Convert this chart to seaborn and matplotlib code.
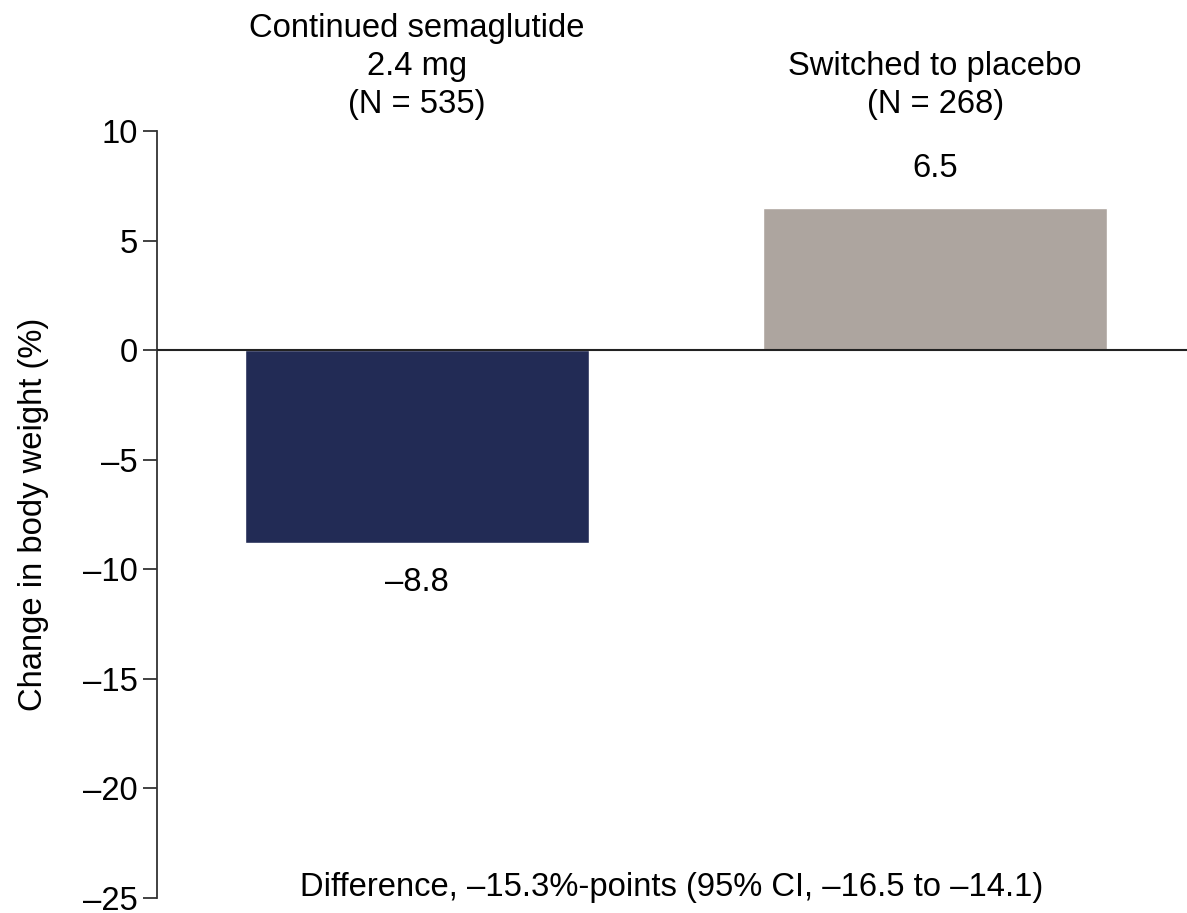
import matplotlib
matplotlib.use("Agg")
import matplotlib.pyplot as plt
import seaborn as sns
import pandas as pd

# Data
groups = ["Continued semaglutide\n2.4 mg\n(N = 535)", "Switched to placebo\n(N = 268)"]
change = [-8.8, 6.5]
bar_colors = ["#222B55", "#ADA59F"]
yticks = [10, 5, 0, -5, -10, -15, -20, -25]
difference_text = "Difference, \u201315.3%-points (95% CI, \u201316.5 to \u201314.1)"

sns.set_theme(style="white")
plt.rcParams["font.family"] = ["Liberation Sans", "DejaVu Sans"]
plt.rcParams["text.color"] = "black"
plt.rcParams["axes.labelcolor"] = "black"
plt.rcParams["ytick.color"] = "black"

FS = 23.6

df = pd.DataFrame({"group": groups, "change": change})

fig = plt.figure(figsize=(11.87, 9.13), dpi=100)
ax = fig.add_axes([157 / 1187, 1 - 898 / 913, 1 - 157 / 1187, (898 - 131) / 913])

sns.barplot(data=df, x="group", y="change", hue="group", palette=bar_colors,
            width=0.664, legend=False, ax=ax, saturation=1)

ax.set_ylim(-25, 10)
ax.set_xlim(-0.502, 1.486)
ax.axhline(0, color="#222222", lw=1.5, zorder=5)

ax.set_yticks(yticks)
ax.set_yticklabels([f"{t}".replace("-", "\u2013") for t in yticks], fontsize=FS)
ax.tick_params(axis="y", direction="out", length=10, width=1.3, color="#333333", pad=4, left=True)
ax.set_xticks([])
ax.set_xlabel("")
ax.set_ylabel("Change in body weight (%)", fontsize=FS, labelpad=24)

for side in ["top", "right", "bottom"]:
    ax.spines[side].set_visible(False)
ax.spines["left"].set_color("#333333")
ax.spines["left"].set_linewidth(1.3)

# Group headers above the plot area
for i, g in enumerate(groups):
    ax.annotate(g, xy=(i, 10), xycoords="data", xytext=(0, 8), textcoords="offset points",
                ha="center", va="bottom", fontsize=FS, linespacing=1.28, annotation_clip=False)

# Value labels
for i, v in enumerate(change):
    lab = f"{v:.1f}".replace("-", "\u2013")
    off = 17 if v >= 0 else -17
    ax.annotate(lab, xy=(i, v), xycoords="data", xytext=(0, off), textcoords="offset points",
                ha="center", va="bottom" if v >= 0 else "top", fontsize=FS)

ax.text(0.5 * (ax.get_xlim()[0] + ax.get_xlim()[1]), -24.5, difference_text,
        ha="center", va="center", fontsize=FS)

fig.savefig("out.png", dpi=100)
